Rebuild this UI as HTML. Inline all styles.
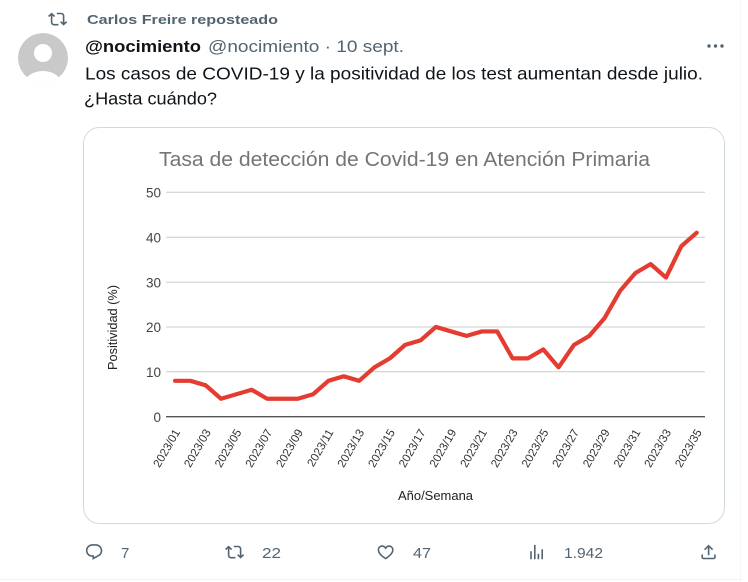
<!DOCTYPE html>
<html><head><meta charset="utf-8"><style>
html,body{margin:0;padding:0;background:#fff;}
svg{display:block;}
text{font-family:"Liberation Sans",Arial,sans-serif;}
</style></head><body>
<svg width="748" height="582" viewBox="0 0 748 582" xmlns="http://www.w3.org/2000/svg">
<rect x="0" y="0" width="748" height="582" fill="#fff"/>
<line x1="740.5" y1="0" x2="740.5" y2="582" stroke="#f3f5f6" stroke-width="1"/>
<line x1="0" y1="579.5" x2="741" y2="579.5" stroke="#eff3f4" stroke-width="1"/>

<!-- repost header -->
<g transform="translate(48,9.5) scale(0.8)" fill="#536471">
<path d="M4.5 3.88l4.432 4.14-1.364 1.46L5.5 7.55V16c0 1.1.896 2 2 2H13v2H7.5c-2.209 0-4-1.79-4-4V7.55L1.432 9.48.068 8.02 4.5 3.88zM16.5 6H11V4h5.5c2.209 0 4 1.79 4 4v8.45l2.068-1.93 1.364 1.46-4.432 4.14-4.432-4.14 1.364-1.46 2.068 1.93V8c0-1.1-.896-2-2-2z"/>
</g>
<text x="87" y="24" font-size="13" font-weight="bold" fill="#536471" textLength="191" lengthAdjust="spacingAndGlyphs">Carlos Freire reposteado</text>

<!-- avatar -->
<defs><clipPath id="av"><circle cx="43" cy="58" r="25"/></clipPath></defs>
<g clip-path="url(#av)">
<circle cx="43" cy="58" r="25" fill="#c9c9c9"/>
<circle cx="43" cy="53" r="9" fill="#fff"/>
<ellipse cx="43" cy="93" rx="23" ry="22" fill="#fff"/>
</g>

<!-- name line -->
<text x="85" y="52" font-size="16.5" font-weight="bold" fill="#0f1419" textLength="116" lengthAdjust="spacingAndGlyphs">@nocimiento</text>
<text x="208" y="52" font-size="16.5" fill="#536471" textLength="196" lengthAdjust="spacingAndGlyphs">@nocimiento · 10 sept.</text>
<g fill="#536471">
<circle cx="709" cy="46" r="1.7"/><circle cx="715.5" cy="46" r="1.7"/><circle cx="722" cy="46" r="1.7"/>
</g>

<!-- tweet text -->
<text x="85" y="79.5" font-size="17.5" fill="#0f1419" textLength="618" lengthAdjust="spacingAndGlyphs">Los casos de COVID-19 y la positividad de los test aumentan desde julio.</text>
<text x="84" y="104.5" font-size="17.5" fill="#0f1419" textLength="133" lengthAdjust="spacingAndGlyphs">¿Hasta cuándo?</text>

<!-- card -->
<rect x="83.5" y="127.5" width="641" height="396" rx="16" ry="16" fill="#fff" stroke="#cfd9de" stroke-width="1"/>

<!-- chart title -->
<text x="159" y="166" font-size="20" fill="#757575" textLength="491" lengthAdjust="spacingAndGlyphs">Tasa de detección de Covid-19 en Atención Primaria</text>

<!-- gridlines -->
<g stroke="#cccccc" stroke-width="1">
<line x1="166" y1="192.3" x2="705" y2="192.3"/>
<line x1="166" y1="237.2" x2="705" y2="237.2"/>
<line x1="166" y1="282.1" x2="705" y2="282.1"/>
<line x1="166" y1="327.0" x2="705" y2="327.0"/>
<line x1="166" y1="371.8" x2="705" y2="371.8"/>
</g>
<line x1="166" y1="416.7" x2="705" y2="416.7" stroke="#555" stroke-width="1.3"/>

<!-- y labels -->
<g font-size="13.5" fill="#444" text-anchor="end">
<text x="161" y="197.5">50</text>
<text x="161" y="242.4">40</text>
<text x="161" y="287.3">30</text>
<text x="161" y="332.2">20</text>
<text x="161" y="377.0">10</text>
<text x="161" y="421.9">0</text>
</g>
<text x="0" y="0" font-size="12.8" fill="#222" text-anchor="middle" transform="translate(117,327.5) rotate(-90)" textLength="85" lengthAdjust="spacingAndGlyphs">Positividad (%)</text>

<!-- x labels -->
<g font-size="11.6" fill="#333" text-anchor="end">
<text transform="translate(180.5,432) rotate(-60)">2023/01</text>
<text transform="translate(211.2,432) rotate(-60)">2023/03</text>
<text transform="translate(241.9,432) rotate(-60)">2023/05</text>
<text transform="translate(272.6,432) rotate(-60)">2023/07</text>
<text transform="translate(303.3,432) rotate(-60)">2023/09</text>
<text transform="translate(333.9,432) rotate(-60)">2023/11</text>
<text transform="translate(364.6,432) rotate(-60)">2023/13</text>
<text transform="translate(395.3,432) rotate(-60)">2023/15</text>
<text transform="translate(426.0,432) rotate(-60)">2023/17</text>
<text transform="translate(456.7,432) rotate(-60)">2023/19</text>
<text transform="translate(487.4,432) rotate(-60)">2023/21</text>
<text transform="translate(518.1,432) rotate(-60)">2023/23</text>
<text transform="translate(548.8,432) rotate(-60)">2023/25</text>
<text transform="translate(579.4,432) rotate(-60)">2023/27</text>
<text transform="translate(610.1,432) rotate(-60)">2023/29</text>
<text transform="translate(640.8,432) rotate(-60)">2023/31</text>
<text transform="translate(671.5,432) rotate(-60)">2023/33</text>
<text transform="translate(702.2,432) rotate(-60)">2023/35</text>
</g>
<text x="398" y="500" font-size="13" fill="#222" textLength="75" lengthAdjust="spacingAndGlyphs">Año/Semana</text>

<!-- series -->
<polyline fill="none" stroke="#e53c32" stroke-width="4.2" stroke-linejoin="round" stroke-linecap="round"
points="175.0,380.8 190.34,380.8 205.69,385.3 221.03,398.75 236.38,394.26 251.72,389.77 267.06,398.75 282.41,398.75 297.75,398.75 313.10,394.26 328.44,380.8 343.78,376.31 359.13,380.8 374.47,367.33 389.82,358.36 405.16,344.89 420.50,340.40 435.85,326.94 451.19,331.43 466.54,335.92 481.88,331.43 497.22,331.43 512.57,358.36 527.91,358.36 543.26,349.38 558.60,367.33 573.94,344.89 589.29,335.92 604.63,317.96 619.98,291.04 635.32,273.08 650.66,264.11 666.01,277.57 681.35,246.15 696.70,232.69"/>

<!-- action bar -->
<g fill="#536471">
<g transform="translate(84.5,542.5) scale(0.8)">
<path d="M1.751 10c0-4.42 3.584-8 8.005-8h4.366c4.49 0 8.129 3.64 8.129 8.13 0 2.960-1.607 5.680-4.196 7.11l-8.054 4.46v-3.69h-.067c-4.49.1-8.183-3.51-8.183-8.010zm8.005-6c-3.317 0-6.005 2.69-6.005 6 0 3.37 2.77 6.08 6.138 6.010l.351-.010h1.761v2.3l5.087-2.81c1.951-1.08 3.163-3.13 3.163-5.36 0-3.39-2.744-6.13-6.129-6.13H9.756z"/>
</g>
<g transform="translate(225,542.5) scale(0.8)">
<path d="M4.5 3.88l4.432 4.14-1.364 1.46L5.5 7.55V16c0 1.1.896 2 2 2H13v2H7.5c-2.209 0-4-1.79-4-4V7.55L1.432 9.48.068 8.02 4.5 3.88zM16.5 6H11V4h5.5c2.209 0 4 1.79 4 4v8.45l2.068-1.93 1.364 1.46-4.432 4.14-4.432-4.14 1.364-1.46 2.068 1.93V8c0-1.1-.896-2-2-2z"/>
</g>
<g transform="translate(376,542.5) scale(0.8)">
<path d="M16.697 5.5c-1.222-.06-2.679.51-3.89 2.16l-.805 1.09-.806-1.09C9.984 6.01 8.526 5.44 7.304 5.5c-1.243.07-2.349.78-2.91 1.910-.552 1.12-.633 2.78.479 4.82 1.074 1.97 3.257 4.27 7.129 6.61 3.87-2.34 6.052-4.64 7.126-6.61 1.111-2.04 1.03-3.7.477-4.82-.561-1.13-1.666-1.84-2.908-1.91zm4.187 7.69c-1.351 2.48-4.001 5.12-8.379 7.67l-.503.3-.504-.3c-4.379-2.550-7.029-5.19-8.382-7.67-1.36-2.5-1.41-4.86-.514-6.67.887-1.79 2.647-2.91 4.601-3.010 1.651-.09 3.368.56 4.798 2.010 1.429-1.45 3.146-2.1 4.796-2.010 1.954.1 3.714 1.22 4.601 3.010.896 1.81.846 4.17-.514 6.67z"/>
</g>
<g transform="translate(527,542.5) scale(0.8)">
<path d="M8.75 21V3h2v18h-2zM18 21V8.5h2V21h-2zM4 21l.004-10h2L6 21H4zm9.248 0v-7h2v7h-2z"/>
</g>
<g transform="translate(699,542.5) scale(0.8)">
<path d="M12 2.59l5.7 5.7-1.41 1.42L13 6.41V16h-2V6.41l-3.3 3.3-1.41-1.42L12 2.59zM21 15l-.02 3.51c0 1.38-1.12 2.49-2.5 2.49H5.5C4.11 21 3 19.88 3 18.5V15h2v3.5c0 .28.22.5.5.5h12.98c.28 0 .5-.22.5-.5L19 15h2z"/>
</g>
</g>
<g font-size="15" fill="#536471">
<text x="121" y="558">7</text>
<text x="262" y="558" textLength="19" lengthAdjust="spacingAndGlyphs">22</text>
<text x="413" y="558" textLength="18" lengthAdjust="spacingAndGlyphs">47</text>
<text x="564" y="558" textLength="39" lengthAdjust="spacingAndGlyphs">1.942</text>
</g>
</svg>
</body></html>
